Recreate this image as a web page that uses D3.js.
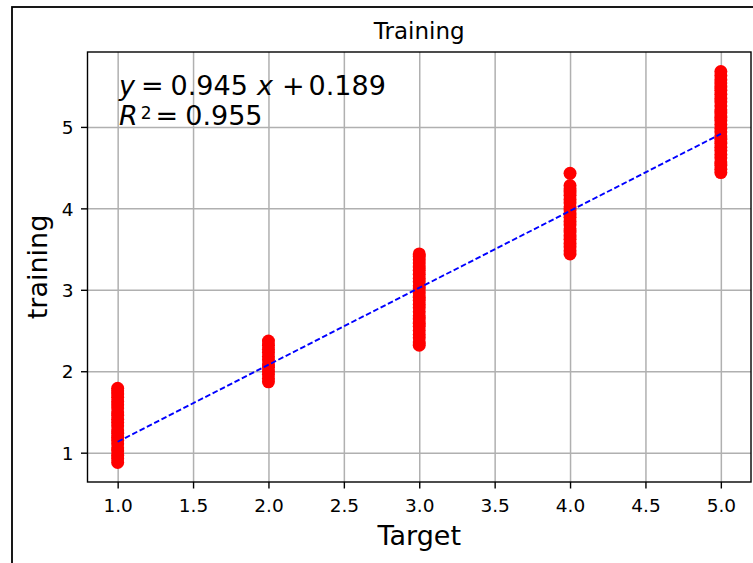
<!DOCTYPE html>
<html>
<head>
<meta charset="utf-8">
<script src="https://cdn.jsdelivr.net/npm/d3@7"></script>
<style>
  html, body { margin: 0; padding: 0; background: #fff; }
  svg { display: block; font-family: "DejaVu Sans", sans-serif; }
</style>
</head>
<body>
<svg id="chart" width="753" height="563"></svg>
<script>
// Target classes and the model's training predictions for each class
const targets = [1, 2, 3, 4, 5];
const predT1 = [0.88, 0.93, 0.97, 1.02, 1.06, 1.11, 1.15, 1.19, 1.24, 1.28, 1.33, 1.37,
                1.41, 1.46, 1.50, 1.55, 1.59, 1.63, 1.68, 1.72, 1.76, 1.79];
const predT2 = [1.87, 1.91, 1.96, 2.00, 2.05, 2.09, 2.14, 2.18, 2.23, 2.27, 2.32, 2.37];
const predT3 = [2.32, 2.36, 2.41, 2.45, 2.50, 2.55, 2.59, 2.64, 2.68, 2.73, 2.78, 2.82,
                2.87, 2.91, 2.96, 3.01, 3.05, 3.10, 3.14, 3.19, 3.24, 3.28, 3.33, 3.37,
                3.41, 3.44];
const predT4 = [3.44, 3.48, 3.53, 3.57, 3.62, 3.66, 3.71, 3.75, 3.80, 3.84, 3.89, 3.93,
                3.98, 4.02, 4.07, 4.11, 4.16, 4.20, 4.24, 4.28, 4.43];
const predT5 = [4.44, 4.48, 4.53, 4.57, 4.62, 4.66, 4.71, 4.75, 4.80, 4.85, 4.89, 4.94,
                4.98, 5.03, 5.08, 5.12, 5.17, 5.21, 5.26, 5.31, 5.35, 5.40, 5.45, 5.49,
                5.54, 5.58, 5.63, 5.68];
const predictions = [predT1, predT2, predT3, predT4, predT5];

// Least-squares fit shown in the annotation
const slope = 0.945;
const intercept = 0.189;
const r2 = 0.955;

const xTicks = [1.0, 1.5, 2.0, 2.5, 3.0, 3.5, 4.0, 4.5, 5.0];
const yTicks = [1, 2, 3, 4, 5];

const points = [];
targets.forEach((t, i) => predictions[i].forEach(v => points.push({ x: t, y: v })));

const svg = d3.select("#chart");

// Figure frame
svg.append("rect")
  .attr("x", 12).attr("y", 7)
  .attr("width", 900).attr("height", 700)
  .attr("fill", "none").attr("stroke", "#000").attr("stroke-width", 1.8);

const plot = { left: 87.5, right: 751, top: 52, bottom: 482 };
const W = plot.right - plot.left;
const H = plot.bottom - plot.top;

// Axis limits padded by 5% of the data range
const xMin = 1, xMax = 5;
const yMin = d3.min(points, d => d.y), yMax = d3.max(points, d => d.y);
const xPad = (xMax - xMin) * 0.05;
const yPad = (yMax - yMin) * 0.05;

const x = d3.scaleLinear().domain([xMin - xPad, xMax + xPad]).range([plot.left, plot.right]);
const y = d3.scaleLinear().domain([yMin - yPad, yMax + yPad]).range([plot.bottom, plot.top]);

const g = svg.append("g");

// Grid
g.append("g")
  .attr("transform", `translate(0,${plot.bottom})`)
  .call(d3.axisBottom(x).tickValues(xTicks).tickSize(-H).tickFormat(""))
  .call(s => s.select(".domain").remove())
  .call(s => s.selectAll("line").attr("stroke", "#b0b0b0").attr("stroke-width", 1.5));
g.append("g")
  .attr("transform", `translate(${plot.left},0)`)
  .call(d3.axisLeft(y).tickValues(yTicks).tickSize(-W).tickFormat(""))
  .call(s => s.select(".domain").remove())
  .call(s => s.selectAll("line").attr("stroke", "#b0b0b0").attr("stroke-width", 1.5));

// Scatter of predictions
g.append("g")
  .selectAll("circle")
  .data(points)
  .join("circle")
  .attr("cx", d => x(d.x))
  .attr("cy", d => y(d.y))
  .attr("r", 6.5)
  .attr("fill", "#ff0000");

// Fitted line
g.append("line")
  .attr("x1", x(xMin)).attr("y1", y(slope * xMin + intercept))
  .attr("x2", x(xMax)).attr("y2", y(slope * xMax + intercept))
  .attr("stroke", "#0000ff")
  .attr("stroke-width", 1.9)
  .attr("stroke-dasharray", "5.6,2.6");

// Axes
const xAxis = g.append("g")
  .attr("transform", `translate(0,${plot.bottom})`)
  .call(d3.axisBottom(x).tickValues(xTicks).tickFormat(d3.format(".1f")).tickSize(6.5).tickSizeOuter(0));
xAxis.selectAll("text").attr("dy", null).attr("y", 29.5);

const yAxis = g.append("g")
  .attr("transform", `translate(${plot.left},0)`)
  .call(d3.axisLeft(y).tickValues(yTicks).tickFormat(d3.format("d")).tickSize(6.5).tickSizeOuter(0));
yAxis.selectAll("text").attr("dy", "0.36em").attr("x", -14);

[xAxis, yAxis].forEach(a => {
  a.select(".domain").remove();
  a.selectAll("line").attr("stroke", "#000").attr("stroke-width", 1.4);
  a.selectAll("text")
    .attr("fill", "#000")
    .attr("font-family", "DejaVu Sans")
    .attr("font-size", 18.5);
});

// Spines
g.append("rect")
  .attr("x", plot.left).attr("y", plot.top)
  .attr("width", W).attr("height", H)
  .attr("fill", "none").attr("stroke", "#000").attr("stroke-width", 1.4);

// Title and axis labels
svg.append("text")
  .attr("x", (plot.left + plot.right) / 2).attr("y", 38.5)
  .attr("text-anchor", "middle")
  .attr("font-size", 23).attr("fill", "#000")
  .text("Training");

svg.append("text")
  .attr("x", (plot.left + plot.right) / 2).attr("y", 545)
  .attr("text-anchor", "middle")
  .attr("font-size", 27).attr("fill", "#000")
  .text("Target");

svg.append("text")
  .attr("transform", `translate(47,${(plot.top + plot.bottom) / 2}) rotate(-90)`)
  .attr("text-anchor", "middle")
  .attr("font-size", 27).attr("fill", "#000")
  .text("training");

// Regression annotation (two lines in one text block)
const ann = svg.append("text")
  .attr("x", 119).attr("y", 95)
  .attr("font-size", 27).attr("fill", "#000");
ann.append("tspan").attr("font-style", "italic").text("y");
ann.append("tspan").attr("dx", 6).text("=");
ann.append("tspan").attr("dx", 7).text(slope.toFixed(3));
ann.append("tspan").attr("dx", 9).attr("font-style", "italic").text("x");
ann.append("tspan").attr("dx", 9).text("+");
ann.append("tspan").attr("dx", 4).text(intercept.toFixed(3));

ann.append("tspan").attr("x", 119).attr("y", 125).attr("font-style", "italic").text("R");
ann.append("tspan").attr("dx", 3).attr("dy", -6).attr("font-size", 17).text("2");
ann.append("tspan").attr("dx", 4).attr("dy", 6).text("=");
ann.append("tspan").attr("dx", 7).text(r2.toFixed(3));
</script>
</body>
</html>
